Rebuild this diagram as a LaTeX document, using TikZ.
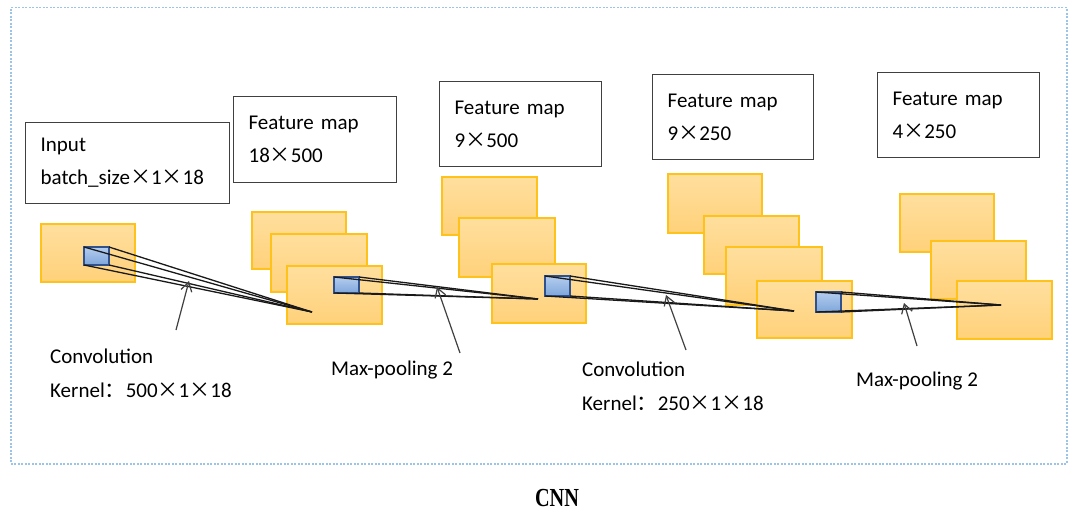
\documentclass[tikz,border=0pt]{standalone}
\usepackage{fontspec}
\usepackage{graphicx}
\setmainfont{Carlito}
\newfontfamily\cjk{Noto Sans CJK SC}
\newfontfamily\capfont{Liberation Serif}
\usetikzlibrary{arrows.meta}

% full-width multiplication sign and colon
\newcommand\tm{{\cjk ×}}
\newcommand\fcolon{{\cjk ：}}

\definecolor{fmtop}{HTML}{FFDF9E}
\definecolor{fmbot}{HTML}{FFD17A}
\definecolor{fmborder}{HTML}{FFC21A}
\definecolor{ktop}{HTML}{B4CDEE}
\definecolor{kbot}{HTML}{7EA6DA}
\definecolor{kborder}{HTML}{2F528F}
\definecolor{framecol}{HTML}{9DC3E6}

\begin{document}
\begin{tikzpicture}[x=1pt,y=-1pt,
  fmap/.style={draw=fmborder, line width=1.3pt, top color=fmtop, bottom color=fmbot,
    inner sep=0pt, outer sep=0pt, anchor=north west},
  kern/.style={draw=kborder, line width=1.1pt, top color=ktop, bottom color=kbot,
    inner sep=0pt, outer sep=0pt, anchor=north west},
  info/.style={draw=black!75, line width=1.3pt, anchor=north west, align=left,
    inner xsep=15pt, inner ysep=0pt, font=\fontsize{21}{33}\selectfont},
  ray/.style={draw=black!90, line width=1.3pt},
  pointer/.style={draw=black!75, line width=1.2pt, -{Straight Barb[length=9pt,width=11pt]}},
  lbl/.style={anchor=west, align=left, inner sep=0pt, font=\fontsize{21}{34}\selectfont},
  panel/.style={draw=framecol, line width=1.5pt, dash pattern=on 2pt off 1.5pt,
    anchor=north west, inner sep=0pt}
]
\useasboundingbox[fill=white] (0,0) rectangle (1074,516);

% dotted outer panel
\node[panel, minimum width=1056pt, minimum height=456pt] (frame) at (10,7) {};

% description boxes
\node[info, text width=174pt, minimum height=81pt] (inbox) at (25,122)
  {Input\\batch\_size\tm1\tm18};
\node[info, text width=133pt, minimum height=86pt] (fm1box) at (233,96)
  {Feature map\\18\tm500};
\node[info, text width=132pt, minimum height=85pt] (fm2box) at (439,81)
  {Feature map\\9\tm500};
\node[info, text width=131pt, minimum height=85pt] (fm3box) at (652,74)
  {Feature map\\9\tm250};
\node[info, text width=132pt, minimum height=85pt] (fm4box) at (877,72)
  {Feature map\\4\tm250};

% feature-map sheets
\node[fmap, minimum width=94pt, minimum height=58pt] (r0) at (41,224) {};

\node[fmap, minimum width=94pt, minimum height=57pt] (r1a) at (252,212) {};
\node[fmap, minimum width=96pt, minimum height=58pt] (r1b) at (271,234) {};
\node[fmap, minimum width=95pt, minimum height=58pt] (r1c) at (287,266) {};

\node[fmap, minimum width=95pt, minimum height=58pt] (r2a) at (442,177) {};
\node[fmap, minimum width=96pt, minimum height=59pt] (r2b) at (459,218) {};
\node[fmap, minimum width=94pt, minimum height=59pt] (r2c) at (492,264) {};

\node[fmap, minimum width=94pt, minimum height=59pt] (r3a) at (668,174) {};
\node[fmap, minimum width=95pt, minimum height=58pt] (r3b) at (704,216) {};
\node[fmap, minimum width=96pt, minimum height=58pt] (r3c) at (726,247) {};
\node[fmap, minimum width=95pt, minimum height=57pt] (r3d) at (757,281) {};

\node[fmap, minimum width=94pt, minimum height=58pt] (r4a) at (900,194) {};
\node[fmap, minimum width=95pt, minimum height=58pt] (r4b) at (931,241) {};
\node[fmap, minimum width=95pt, minimum height=58pt] (r4c) at (957,281) {};

% receptive-field windows
\node[kern, minimum width=25pt, minimum height=18pt] (k0) at (84,247) {};
\node[kern, minimum width=25pt, minimum height=16pt] (k1) at (334,277) {};
\node[kern, minimum width=25pt, minimum height=20pt] (k2) at (545,276) {};
\node[kern, minimum width=25pt, minimum height=20pt] (k3) at (816,292) {};

% target points of the windows
\coordinate (a1) at (312,312);
\coordinate (a2) at (538,299);
\coordinate (a3) at (794,311);
\coordinate (a4) at (1001,305);

% projection rays
\foreach \k/\a in {k0/a1, k1/a2, k2/a3, k3/a4}{
  \draw[ray] (\k.north west) -- (\a);
  \draw[ray] (\k.north east) -- (\a);
  \draw[ray] (\k.south west) -- (\a);
  \draw[ray] (\k.south east) -- (\a);
}

% operation labels
\node[lbl] (conv1) at (50,373) {Convolution\\Kernel\fcolon500\tm1\tm18};
\node[lbl] (pool1) at (331,370) {Max-pooling 2};
\node[lbl] (conv2) at (582,386) {Convolution\\Kernel\fcolon250\tm1\tm18};
\node[lbl] (pool2) at (856,381) {Max-pooling 2};

% pointers from labels to the rays
\coordinate (t1) at (176,330); \coordinate (h1) at (189,281);
\coordinate (t2) at (460,353); \coordinate (h2) at (437,287);
\coordinate (t3) at (686,350); \coordinate (h3) at (666,295);
\coordinate (t4) at (917,346); \coordinate (h4) at (904,303);
\draw[pointer] (t1) -- (h1);
\draw[pointer] (t2) -- (h2);
\draw[pointer] (t3) -- (h3);
\draw[pointer] (t4) -- (h4);

% caption
\node[inner sep=0pt, font=\capfont\bfseries\fontsize{26}{26}\selectfont, xscale=0.78] (cap) at (557,498) {CNN};
\end{tikzpicture}
\end{document}
